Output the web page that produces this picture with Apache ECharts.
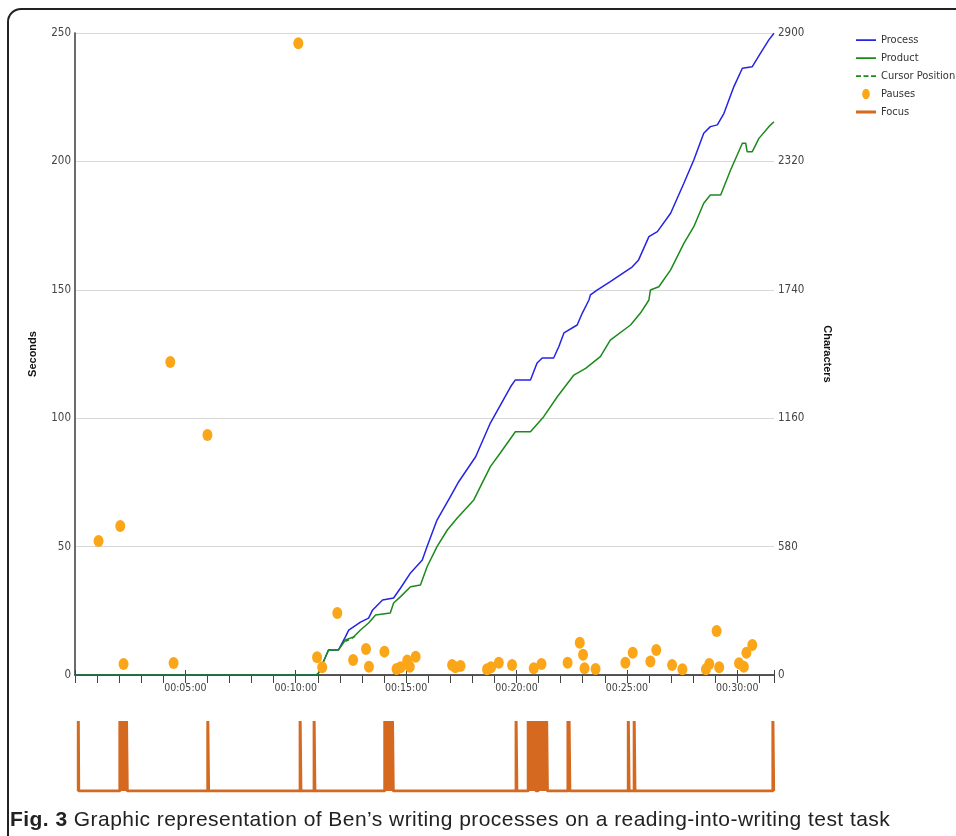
<!DOCTYPE html>
<html><head><meta charset="utf-8">
<script src="https://cdn.jsdelivr.net/npm/echarts@6/dist/echarts.min.js"></script>
<style>
html,body{margin:0;padding:0;background:#fff;overflow:hidden;width:956px;height:836px}
#frame{position:absolute;left:7px;top:8px;width:1200px;height:1200px;border:2px solid #222;border-radius:14px;}
#chart{position:absolute;left:0;top:0;width:956px;height:836px}
#cap{position:absolute;left:10px;top:806px;font-family:'Liberation Sans',Arial,sans-serif;font-size:21px;letter-spacing:0.45px;line-height:26px;color:#222;white-space:nowrap}
</style></head>
<body>
<div id="frame"></div>
<div id="chart"></div>
<div id="cap"><b>Fig. 3</b> Graphic representation of Ben’s writing processes on a reading-into-writing test task</div>
<script>
// time in seconds
const processTime  = [0,656,662,689,716,735,744,776,798,809,836,866,885,912,944,957,984,1020,1043,1089,1129,1184,1197,1238,1256,1270,1301,1315,1329,1365,1379,1397,1401,1419,1455,1515,1532,1560,1583,1619,1655,1682,1709,1727,1746,1764,1791,1814,1841,1863,1886,1900];
const processChars = [0,0,9,113,113,172,203,239,257,294,339,348,393,461,519,580,700,805,873,986,1138,1302,1333,1333,1409,1432,1432,1483,1545,1581,1635,1694,1717,1739,1777,1844,1875,1980,2003,2086,2221,2326,2447,2477,2485,2537,2658,2741,2748,2808,2869,2899];
const productTime  = [0,656,662,689,716,735,757,776,798,817,857,866,885,912,939,957,984,1012,1039,1084,1129,1156,1197,1238,1274,1311,1356,1388,1428,1455,1510,1537,1560,1564,1587,1619,1655,1682,1709,1727,1755,1782,1814,1823,1827,1841,1859,1886,1900];
const productChars = [0,0,9,113,113,158,172,203,235,271,280,325,354,399,407,489,580,655,709,791,941,1003,1099,1099,1167,1257,1355,1385,1438,1513,1581,1635,1694,1739,1754,1830,1950,2025,2131,2168,2168,2281,2402,2402,2364,2364,2424,2477,2499];
const cursorTime   = [735,743,757,766];
const cursorChars  = [152,158,170,186];
const pauseTime    = [64,123,132,259,268,360,607,658,672,713,756,791,799,841,874,885,903,910,926,1025,1034,1048,1120,1131,1152,1188,1247,1268,1339,1372,1381,1385,1415,1496,1516,1564,1580,1623,1651,1715,1724,1744,1751,1805,1818,1825,1841,1901];
const pauseSeconds = [52.2,58,4.3,121.9,4.7,93.5,246,6.9,3.0,24.1,5.8,10.1,3.2,9.1,2.3,3.0,5.6,3.2,7.1,3.9,3.0,3.5,2.2,3.0,4.8,3.9,2.6,4.3,4.8,12.6,7.9,2.6,2.3,4.8,8.7,5.3,9.7,3.9,2.2,2.2,4.3,17.1,3.0,4.6,3.2,8.7,11.7,2.6];
// focus-away intervals [start, end] in seconds
const focusOn = [[9,10],[122,123],[125,126],[128,129],[131,132],[134,135],[137,138],[140,142],[361,363],[612,614],[650,652],
  [842,843],[845,846],[848,849],[851,853],[857,858],[860,861],[863,865],[1199,1201],
  [1232,1233],[1235,1236],[1238,1239],[1241,1242],[1244,1245],[1247,1248],[1250,1251],[1252,1253],
  [1259,1260],[1262,1263],[1265,1266],[1268,1269],[1271,1272],[1274,1275],[1277,1278],[1280,1281],[1282,1284],
  [1340,1341],[1343,1345],[1504,1506],[1520,1522],[1897,1899]];
const xMin = 0, xMax = 1900;

const FONT = "'Liberation Sans Narrow','DejaVu Sans Condensed',Arial,sans-serif";
function fmt(v){
  if (v <= 0 || v % 300 !== 0) return '';
  const h = Math.floor(v/3600), m = Math.floor((v%3600)/60), s = v%60;
  const p = n => String(n).padStart(2,'0');
  return p(h)+':'+p(m)+':'+p(s);
}
const zip = (a,b) => a.map((t,i)=>[t,b[i]]);
const focusData = [];
focusOn.forEach(([s,e]) => { focusData.push([s,0],[s,1],[e,1],[e,0]); });

// legend icons, all with a 20x12 bounding box
const BOX = 'M0,0h0.01v0.01h-0.01zM20,12h-0.01v-0.01h0.01z';
const ICON_LINE  = 'path://' + BOX + 'M0,5.2h20v1.8h-20z';
const ICON_DASH  = 'path://' + BOX + 'M0,5.2h5v1.8h-5zM7.5,5.2h5v1.8h-5zM15,5.2h5v1.8h-5z';
const ICON_THICK = 'path://' + BOX + 'M0,4.6h20v2.8h-20z';
const ICON_DOT   = 'path://' + BOX + 'M10,0.8A3.8,5.2 0 1 1 9.99,0.8Z';

const chart = echarts.init(document.getElementById('chart'), null, {renderer:'canvas'});
chart.setOption({
  animation:false,
  backgroundColor:'transparent',
  legend:{
    orient:'vertical', left:851, top:29, itemWidth:20, itemHeight:12, itemGap:6,
    itemStyle:{borderWidth:0}, symbolKeepAspect:true,
    textStyle:{fontFamily:FONT, fontSize:11, color:'#333'},
    data:[
      {name:'Process', icon:ICON_LINE},
      {name:'Product', icon:ICON_LINE},
      {name:'Cursor Position', icon:ICON_DASH},
      {name:'Pauses', icon:ICON_DOT},
      {name:'Focus', icon:ICON_THICK}
    ]
  },
  grid:[
    {left:75, right:182, top:33, bottom:161},
    {left:75, right:182, top:721, height:70}
  ],
  xAxis:[
    {type:'value', gridIndex:0, min:xMin, max:xMax, interval:60,
     axisLine:{show:true, lineStyle:{color:'#222', width:1.5}},
     axisTick:{show:true, length:8, inside:false, lineStyle:{color:'#444'}},
     axisLabel:{interval:0, formatter:fmt, fontFamily:FONT, fontSize:10.5, color:'#444', margin:8},
     splitLine:{show:false}},
    {type:'value', gridIndex:0, min:xMin, max:xMax, interval:300, position:'bottom',
     axisLine:{show:false}, axisTick:{show:true, inside:true, length:5, lineStyle:{color:'#444'}},
     axisLabel:{show:false}, splitLine:{show:false}},
    {type:'value', gridIndex:1, min:xMin, max:xMax, show:false}
  ],
  yAxis:[
    {type:'value', gridIndex:0, min:0, max:250, interval:50, position:'left',
     name:'Seconds', nameLocation:'middle', nameGap:37, nameRotate:90,
     nameTextStyle:{fontFamily:'Liberation Sans, Arial', fontSize:11, fontWeight:'bold', color:'#111'},
     axisLine:{show:true, lineStyle:{color:'#999', width:1.5}},
     axisTick:{show:false},
     axisLabel:{fontFamily:FONT, fontSize:11.5, color:'#444', margin:4, formatter:v=>String(v)},
     splitLine:{show:true, lineStyle:{color:'#d8d8d8', width:1.2}}},
    {type:'value', gridIndex:0, min:0, max:2900, interval:580, position:'right',
     name:'Characters', nameLocation:'middle', nameGap:48, nameRotate:-90,
     nameTextStyle:{fontFamily:'Liberation Sans, Arial', fontSize:11, fontWeight:'bold', color:'#111'},
     axisLine:{show:true, lineStyle:{color:'#555', width:1.5}},
     axisTick:{show:false},
     axisLabel:{fontFamily:FONT, fontSize:11.5, color:'#444', margin:4, formatter:v=>String(v)},
     splitLine:{show:false}},
    {type:'value', gridIndex:1, min:0, max:1, show:false}
  ],
  series:[
    {name:'Process', type:'line', xAxisIndex:0, yAxisIndex:1, data:zip(processTime,processChars),
     symbol:'none', lineStyle:{color:'#2424e8', width:1.5}, itemStyle:{color:'#2424e8'}, z:3},
    {name:'Product', type:'line', xAxisIndex:0, yAxisIndex:1, data:zip(productTime,productChars),
     symbol:'none', lineStyle:{color:'#1b8a1b', width:1.5}, itemStyle:{color:'#1b8a1b'}, z:3},
    {name:'Cursor Position', type:'line', xAxisIndex:0, yAxisIndex:1, data:zip(cursorTime,cursorChars),
     symbol:'none', lineStyle:{color:'#1b8a1b', width:1.5, type:[4,3]}, itemStyle:{color:'#1b8a1b'}, z:2},
    {name:'Pauses', type:'scatter', xAxisIndex:0, yAxisIndex:0, data:zip(pauseTime,pauseSeconds),
     symbol:'circle', symbolSize:[10,12], itemStyle:{color:'#fba619', opacity:1}, z:5},
    {name:'Focus', type:'line', xAxisIndex:2, yAxisIndex:2, data:focusData,
     symbol:'none', lineStyle:{color:'#d4691f', width:3}, itemStyle:{color:'#d4691f'}, z:3}
  ]
});
</script>
</body></html>
